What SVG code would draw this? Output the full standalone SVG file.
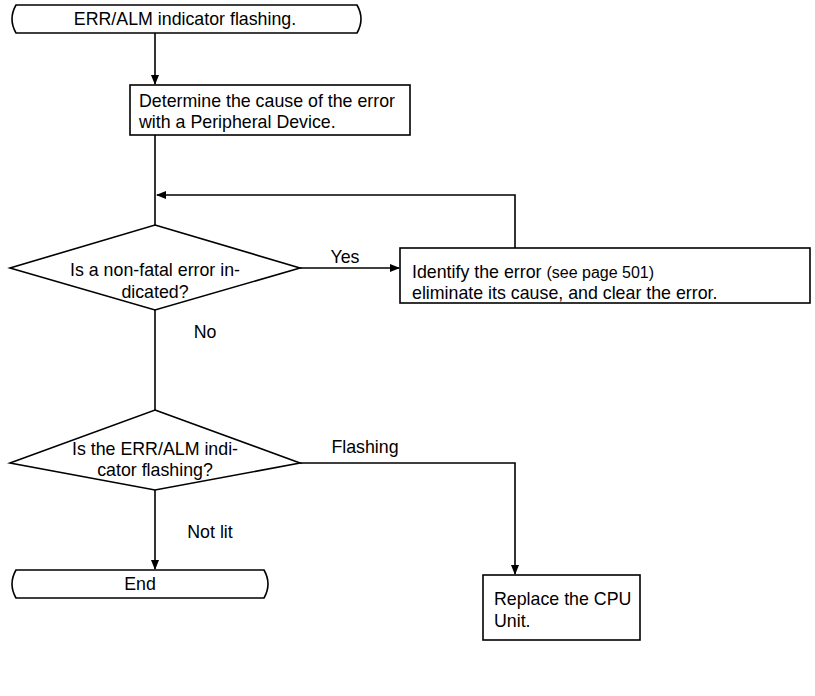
<svg xmlns="http://www.w3.org/2000/svg" width="815" height="696" viewBox="0 0 815 696">
<defs><marker id="a" markerWidth="10" markerHeight="10" refX="9" refY="5" orient="auto" markerUnits="userSpaceOnUse"><path d="M0,1 L10,5 L0,9 Z" fill="#000"/></marker></defs>
<style>.s{fill:#fff;stroke:#000;stroke-width:1.6}.l{fill:none;stroke:#000;stroke-width:1.6}text{font-family:"Liberation Sans",Arial,sans-serif;font-size:17.8px;fill:#000}.c{text-anchor:middle}</style>
<rect width="815" height="696" fill="#fff"/>
<g id="connectors">
<path class="l" d="M155,33 V84" marker-end="url(#a)"/>
<path class="l" d="M155,135 V225"/>
<path class="l" d="M515,248 V195 H157" marker-end="url(#a)"/>
<path class="l" d="M300,268 H399" marker-end="url(#a)"/>
<path class="l" d="M155,310 V410"/>
<path class="l" d="M300,463 H515 V574" marker-end="url(#a)"/>
<path class="l" d="M155,490 V569" marker-end="url(#a)"/>
<text x="345" y="263" class="c">Yes</text>
<text x="205" y="338" class="c">No</text>
<text x="365" y="453" class="c">Flashing</text>
<text x="210" y="538" class="c">Not lit</text>
</g>
<g id="start"><path class="s" d="M16,5 H357 Q365,19 357,33 H16 Q8,19 16,5 Z"/><text x="185" y="25" class="c">ERR/ALM indicator flashing.</text></g>
<g id="determine"><rect class="s" x="130" y="85" width="280" height="50"/><text x="139" y="107">Determine the cause of the error</text><text x="139" y="128">with a Peripheral Device.</text></g>
<g id="d1"><path class="s" d="M155,225 L300,268 L155,310 L10,268 Z"/><text x="155" y="276" class="c">Is a non-fatal error in-</text><text x="155" y="298" class="c">dicated?</text></g>
<g id="identify"><rect class="s" x="400" y="248" width="410" height="55"/><text x="412" y="278">Identify the error  <tspan font-size="16">(see page 501)</tspan></text><text x="412" y="299">eliminate its cause, and clear the error.</text></g>
<g id="d2"><path class="s" d="M155,410 L300,463 L155,490 L10,463 Z"/><text x="155" y="455" class="c">Is the ERR/ALM indi-</text><text x="155" y="476" class="c">cator flashing?</text></g>
<g id="end"><path class="s" d="M16,570 H264 Q272,584 264,598 H16 Q8,584 16,570 Z"/><text x="140" y="590" class="c">End</text></g>
<g id="replace"><rect class="s" x="483" y="575" width="157" height="65"/><text x="494" y="605">Replace the CPU</text><text x="494" y="627">Unit.</text></g>
</svg>
